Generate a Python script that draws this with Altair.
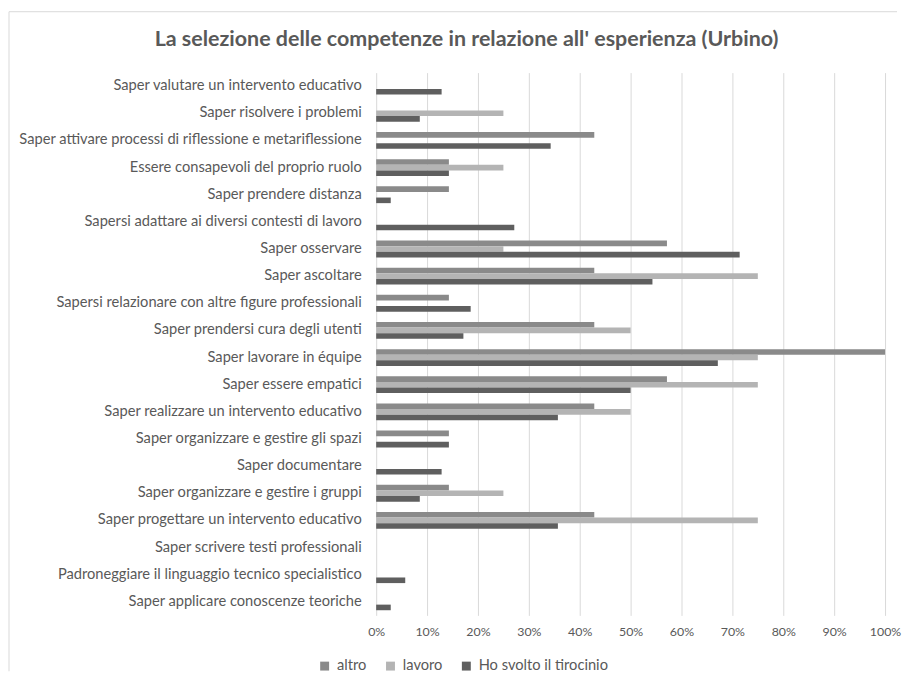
import altair as alt
import pandas as pd

categories = [
    "Saper valutare un intervento educativo",
    "Saper risolvere i problemi",
    "Saper attivare processi di riflessione e metariflessione",
    "Essere consapevoli del proprio ruolo",
    "Saper prendere distanza",
    "Sapersi adattare ai diversi contesti di lavoro",
    "Saper osservare",
    "Saper ascoltare",
    "Sapersi relazionare con altre figure professionali",
    "Saper prendersi cura degli utenti",
    "Saper lavorare in équipe",
    "Saper essere empatici",
    "Saper realizzare un intervento educativo",
    "Saper organizzare e gestire gli spazi",
    "Saper documentare",
    "Saper organizzare e gestire i gruppi",
    "Saper progettare un intervento educativo",
    "Saper scrivere testi professionali",
    "Padroneggiare il linguaggio tecnico specialistico",
    "Saper applicare conoscenze teoriche",
]
series = ["altro", "lavoro", "Ho svolto il tirocinio"]
altro = [0, 0, 42.86, 14.29, 14.29, 0, 57.14, 42.86, 14.29, 42.86,
         100, 57.14, 42.86, 14.29, 0, 14.29, 42.86, 0, 0, 0]
lavoro = [0, 25, 0, 25, 0, 0, 25, 75, 0, 50,
          75, 75, 50, 0, 0, 25, 75, 0, 0, 0]
tirocinio = [12.86, 8.57, 34.29, 14.29, 2.86, 27.14, 71.43, 54.29, 18.57, 17.14,
             67.14, 50, 35.71, 14.29, 12.86, 8.57, 35.71, 0, 5.71, 2.86]
colors = ["#8a8a8a", "#b4b4b4", "#5f5f5f"]
title_text = "La selezione delle competenze in relazione all' esperienza (Urbino)"

rows = []
for name, vals in zip(series, [altro, lavoro, tirocinio]):
    for c, v in zip(categories, vals):
        rows.append({"cat": c, "serie": name, "val": v / 100.0})
df = pd.DataFrame(rows)

TXT = "#595959"
GRID = "#d9d9d9"

bars = alt.Chart(df).mark_bar().encode(
    y=alt.Y("cat:N", sort=categories, title=None,
            scale=alt.Scale(paddingInner=0.38, paddingOuter=0.19),
            axis=alt.Axis(labelFontSize=14.7, labelColor=TXT, labelPadding=15,
                          ticks=False, domain=False, labelLimit=400,
                          minExtent=360, maxExtent=360)),
    yOffset=alt.YOffset("serie:N", sort=series,
                        scale=alt.Scale(paddingInner=0, paddingOuter=0)),
    x=alt.X("val:Q", title=None,
            scale=alt.Scale(domain=[0, 1], nice=False),
            axis=alt.Axis(format=".0%", values=[i / 10 for i in range(11)],
                          labelFontSize=12.4, labelColor=TXT, labelPadding=10,
                          ticks=False, domain=False, gridColor=GRID,
                          labelFlush=False)),
    color=alt.Color("serie:N", sort=series,
                    scale=alt.Scale(domain=series, range=colors),
                    legend=alt.Legend(title=None, orient="none", direction="horizontal",
                                      legendX=-59, legendY=587,
                                      symbolType="square", symbolSize=80,
                                      symbolStrokeWidth=0,
                                      labelFontSize=14.7, labelColor=TXT,
                                      labelOffset=5, columnPadding=16)),
)

frame_df = pd.DataFrame({"k": [0]})
left_line = alt.Chart(frame_df).mark_rule(color=GRID, strokeWidth=1).encode(
    x=alt.value(-368), y=alt.value(-61), y2=alt.value(600))
top_line = alt.Chart(frame_df).mark_rule(color=GRID, strokeWidth=1).encode(
    x=alt.value(-368), x2=alt.value(522), y=alt.value(-61))
title_mark = alt.Chart(pd.DataFrame({"t": [title_text]})).mark_text(
    fontSize=21.5, fontWeight="bold", color=TXT, align="center", baseline="middle"
).encode(text="t:N", x=alt.value(90.5), y=alt.value(-33))

chart = alt.layer(bars, left_line, top_line, title_mark).properties(
    width=510, height=544,
    padding={"left": 0, "top": 2, "right": 5, "bottom": 0},
).configure(font="Lato").configure_view(stroke=None)

chart.save("out.html", embed_options={"renderer": "svg", "actions": False})
